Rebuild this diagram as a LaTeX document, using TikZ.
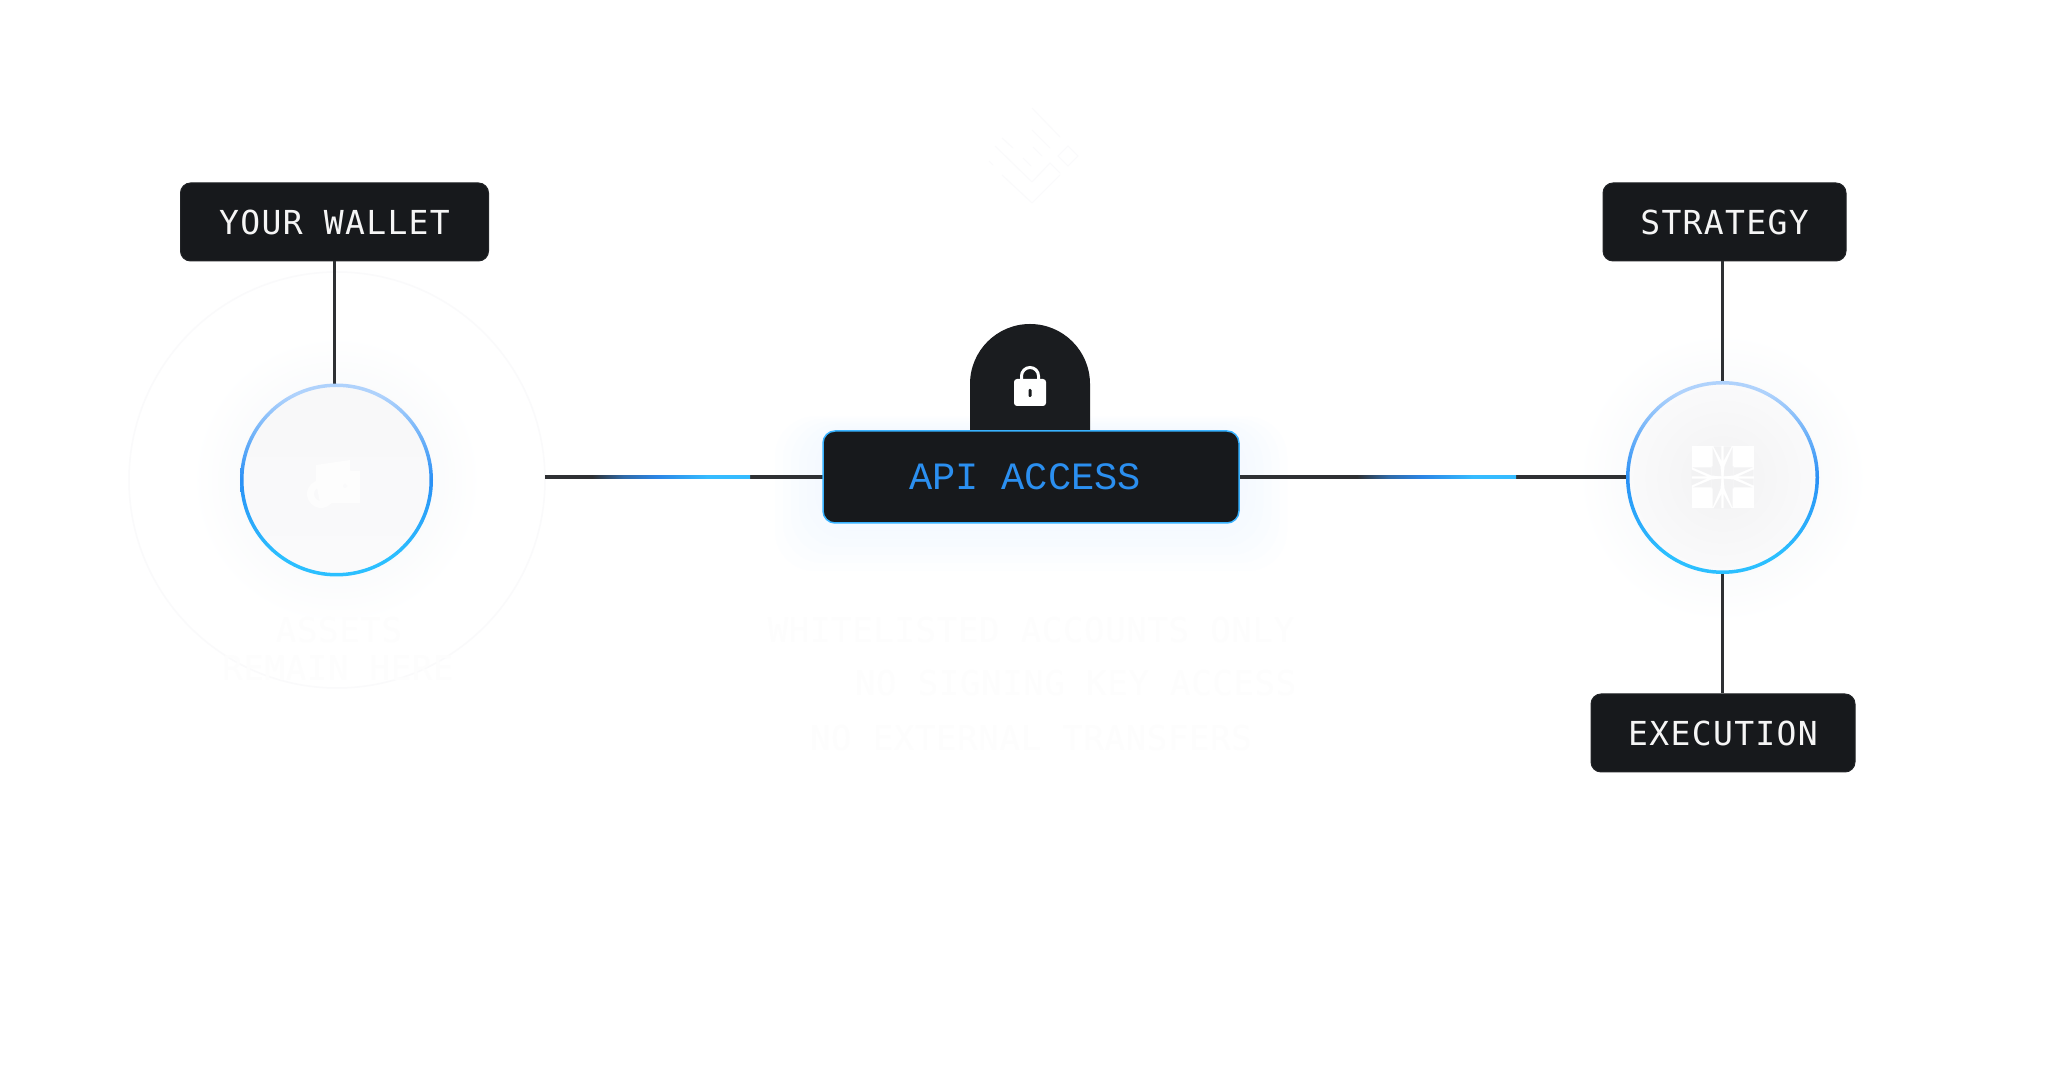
\documentclass[tikz,border=0pt]{standalone}
\usepackage{fontspec}
\usetikzlibrary{arrows.meta, positioning, calc}
\newfontfamily\labelfont[LetterSpace=4]{DejaVu Sans Mono}
\newfontfamily\ghostfont[LetterSpace=2]{DejaVu Sans Mono}
\newfontfamily\apifont{Liberation Mono}
\definecolor{boxdark}{HTML}{17191C}
\definecolor{tabdark}{HTML}{1A1C1F}
\definecolor{boxedge}{HTML}{222427}
\definecolor{linedark}{HTML}{2E3033}
\definecolor{flowmid}{HTML}{2F6AA8}
\definecolor{flowblue}{HTML}{2B85E5}
\definecolor{flowcyan}{HTML}{35BBFF}
\definecolor{apiblue}{HTML}{2B8FF0}
\definecolor{apiedge}{HTML}{38B2FF}
\definecolor{apiglow}{HTML}{E4EFFF}
\definecolor{ringtop}{HTML}{AFD2FC}
\definecolor{ringmid}{HTML}{2B90F5}
\definecolor{ringlow}{HTML}{2BBFFF}
\definecolor{haloblue}{HTML}{FAFBFC}
\definecolor{walletfill}{HTML}{FAFAFB}
\definecolor{agentfill}{HTML}{F2F2F3}
\definecolor{ghostgrey}{HTML}{FDFDFD}
\definecolor{ghostline}{HTML}{FAFAFB}
\pgfdeclarehorizontalshading{flowshade}{100bp}{color(0bp)=(linedark); color(25bp)=(linedark); color(35bp)=(flowmid); color(45.5bp)=(flowblue); color(61.5bp)=(flowcyan); color(75bp)=(flowcyan); color(100bp)=(flowcyan)}
\pgfdeclareverticalshading{ringshade}{100bp}{color(0bp)=(ringlow); color(30bp)=(ringlow); color(50bp)=(ringmid); color(72bp)=(ringtop); color(100bp)=(ringtop)}
\pgfdeclareradialshading{haloshade}{\pgfpointorigin}{color(0bp)=(haloblue); color(16bp)=(haloblue); color(25bp)=(white); color(50bp)=(white)}

\begin{document}
\begin{tikzpicture}[
    labelnode/.style={draw=boxedge, fill=boxdark, line width=0.01cm, rounded corners=0.1cm, minimum height=0.78cm, inner sep=0pt, text=white!96!black, font=\labelfont\fontsize{9.4pt}{11pt}\selectfont},
    apinode/.style={draw=apiedge, fill=boxdark, line width=0.015cm, rounded corners=0.12cm, minimum width=4.16cm, minimum height=0.92cm, inner sep=0pt, text=apiblue, font=\apifont\fontsize{11pt}{13pt}\selectfont},
    ringnode/.style={circle, minimum size=1.91cm, inner sep=0pt},
    ghostnode/.style={text=ghostgrey, inner sep=0pt, font=\ghostfont\fontsize{9.67pt}{11pt}\selectfont},
    connector/.style={draw=linedark, line width=0.034cm},
]
    \useasboundingbox (0,0) rectangle (20.61,10.68);
    \fill[white] (0,0) rectangle (20.61,10.68);

    % Labels and main box
    \node[labelnode, minimum width=3.08cm] (walletlabel) at (3.345, 8.46) {YOUR WALLET};
    \node[labelnode, minimum width=2.43cm] (stratlabel) at (17.245, 8.46) {STRATEGY};
    \node[labelnode, minimum width=2.64cm] (execlabel) at (17.23, 3.35) {EXECUTION};
    \node[ringnode] (walletnode) at (3.365, 5.88) {};
    \node[ringnode] (agentnode) at (17.225, 5.905) {};
    \coordinate (ringport) at (5.45, 5.91);
    \coordinate (flowastart) at (5.92, 5.91);
    \coordinate (flowaend) at (7.50, 5.91);
    \coordinate (flowbstart) at (13.57, 5.91);
    \coordinate (flowbend) at (15.16, 5.91);

    % Faint mark at the top
    \draw[ghostline, line width=0.01cm] (10.32,9.60) -- (10.60,9.31) (10.32,9.38) -- (10.50,9.20) (10.33,9.21) -- (10.42,9.12)
        (10.23,9.10) -- (10.31,9.02) (10.32,8.86) -- (10.50,9.05) -- (10.60,8.95) (10.32,8.65) -- (10.60,8.93)
        (10.02,9.30) -- (10.13,9.20) (9.95,9.22) -- (10.32,8.86) (9.89,9.07) -- (9.93,9.03) (10.02,8.93) -- (10.32,8.65)
        (10.68,9.22) -- (10.78,9.12) -- (10.68,9.02) -- (10.58,9.12) -- cycle;

    % Faint ring and halos
    \draw[ghostline, line width=0.015cm] (3.37, 5.88) circle (2.08);
    \shade[shading=haloshade] (walletnode) circle (1.45);
    \shade[shading=haloshade] (agentnode) circle (1.45);

    % Glow round the main box
    \foreach \g in {0.08,0.16,...,0.56}
        \fill[apiglow, opacity=0.05, rounded corners=0.4cm] (10.31-2.08-\g, 5.45-\g) rectangle (10.31+2.08+\g, 6.37+0.3*\g);

    % Connectors
    \draw[connector] (walletlabel) -- (walletlabel |- walletnode);
    \draw[connector] (agentnode |- stratlabel.south) -- (agentnode);
    \draw[connector] (agentnode) -- (agentnode |- execlabel.north);
    \draw[connector] (ringport) -- (10.31, 5.91);
    \draw[connector] (10.31, 5.91) -- (agentnode.center |- ringport);
    \shade[shading=flowshade] ($(flowastart)+(0,-0.017)$) rectangle ($(flowaend)+(0,0.017)$);
    \shade[shading=flowshade] ($(flowbstart)+(0,-0.017)$) rectangle ($(flowbend)+(0,0.017)$);

    % Wallet circle
    \shade[top color=walletfill!70!agentfill, bottom color=walletfill] (walletnode) circle (0.955);
    \shade[shading=ringshade, even odd rule] (walletnode) circle (0.965) (walletnode) circle (0.93);
    \fill[white!60!walletfill] (3.16,6.03) -- (3.50,6.08) -- (3.50,5.97) -- (3.60,5.97) -- (3.60,5.65) -- (3.20,5.65) -- (3.16,5.85) -- cycle;
    \fill[white!60!walletfill, even odd rule] (3.21,5.74) circle (0.14) (3.21,5.74) circle (0.07);
    \fill[walletfill] (3.45,5.82) circle (0.02);

    % Agent circle
    \shade[inner color=agentfill, outer color=walletfill] (agentnode) circle (0.955);
    \shade[shading=ringshade, even odd rule] (agentnode) circle (0.965) (agentnode) circle (0.93);
    \begin{scope}[shift={(agentnode)}]
        \fill[white] (-0.31,-0.31) rectangle (0.31,0.31);
        \foreach \sx/\sy in {1/1, -1/1, 1/-1, -1/-1} {
            \begin{scope}[xscale=\sx, yscale=\sy]
                \fill[agentfill] (0.012,0.31) -- (0.09,0.31) -- (0.012,0.17) -- cycle;
                \fill[agentfill] (0.10,0.30) -- (0.10,0.11) -- (0.11,0.11) -- (0.11,0.02) -- (0.012,0.012) -- (0.02,0.11) -- cycle;
                \fill[agentfill] (0.31,0.012) -- (0.31,0.08) -- (0.16,0.012) -- cycle;
                \fill[agentfill] (0.30,0.10) -- (0.11,0.10) -- (0.11,0.02) -- cycle;
            \end{scope}
        }
    \end{scope}

    % Lock tab and main box
    \fill[tabdark] (9.70,6.35) [rounded corners=0.6cm] -- (9.70,7.44) -- (10.90,7.44) [sharp corners] -- (10.90,6.35) -- cycle;
    \draw[white, line width=0.03cm] (10.215,6.85) -- (10.215,6.92) arc[start angle=180, end angle=0, radius=0.085] -- (10.385,6.85);
    \fill[white, rounded corners=0.03cm] (10.14,6.62) rectangle (10.46,6.89);
    \fill[boxdark, rounded corners=0.012cm] (10.285,6.71) rectangle (10.315,6.79);
    \node[apinode] (apibox) at (10.31, 5.91) {API ACCESS\hspace*{0.12cm}};

    % Faint captions
    \node[ghostnode] (assetsline) at (3.39, 4.38) {ASSETS};
    \node[ghostnode] (remainline) at (3.38, 4.00) {REMAIN HERE};
    \node[ghostnode] (listline) at (10.31, 4.38) {WHITELISTED ACCOUNTS ONLY};
    \node[ghostnode, anchor=east] (keyline) at (12.97, 3.85) {NO SIGNING KEY ACCESS};
    \node[ghostnode] (transferline) at (10.31, 3.30) {NO EXTERNAL TRANSFERS};
\end{tikzpicture}
\end{document}
